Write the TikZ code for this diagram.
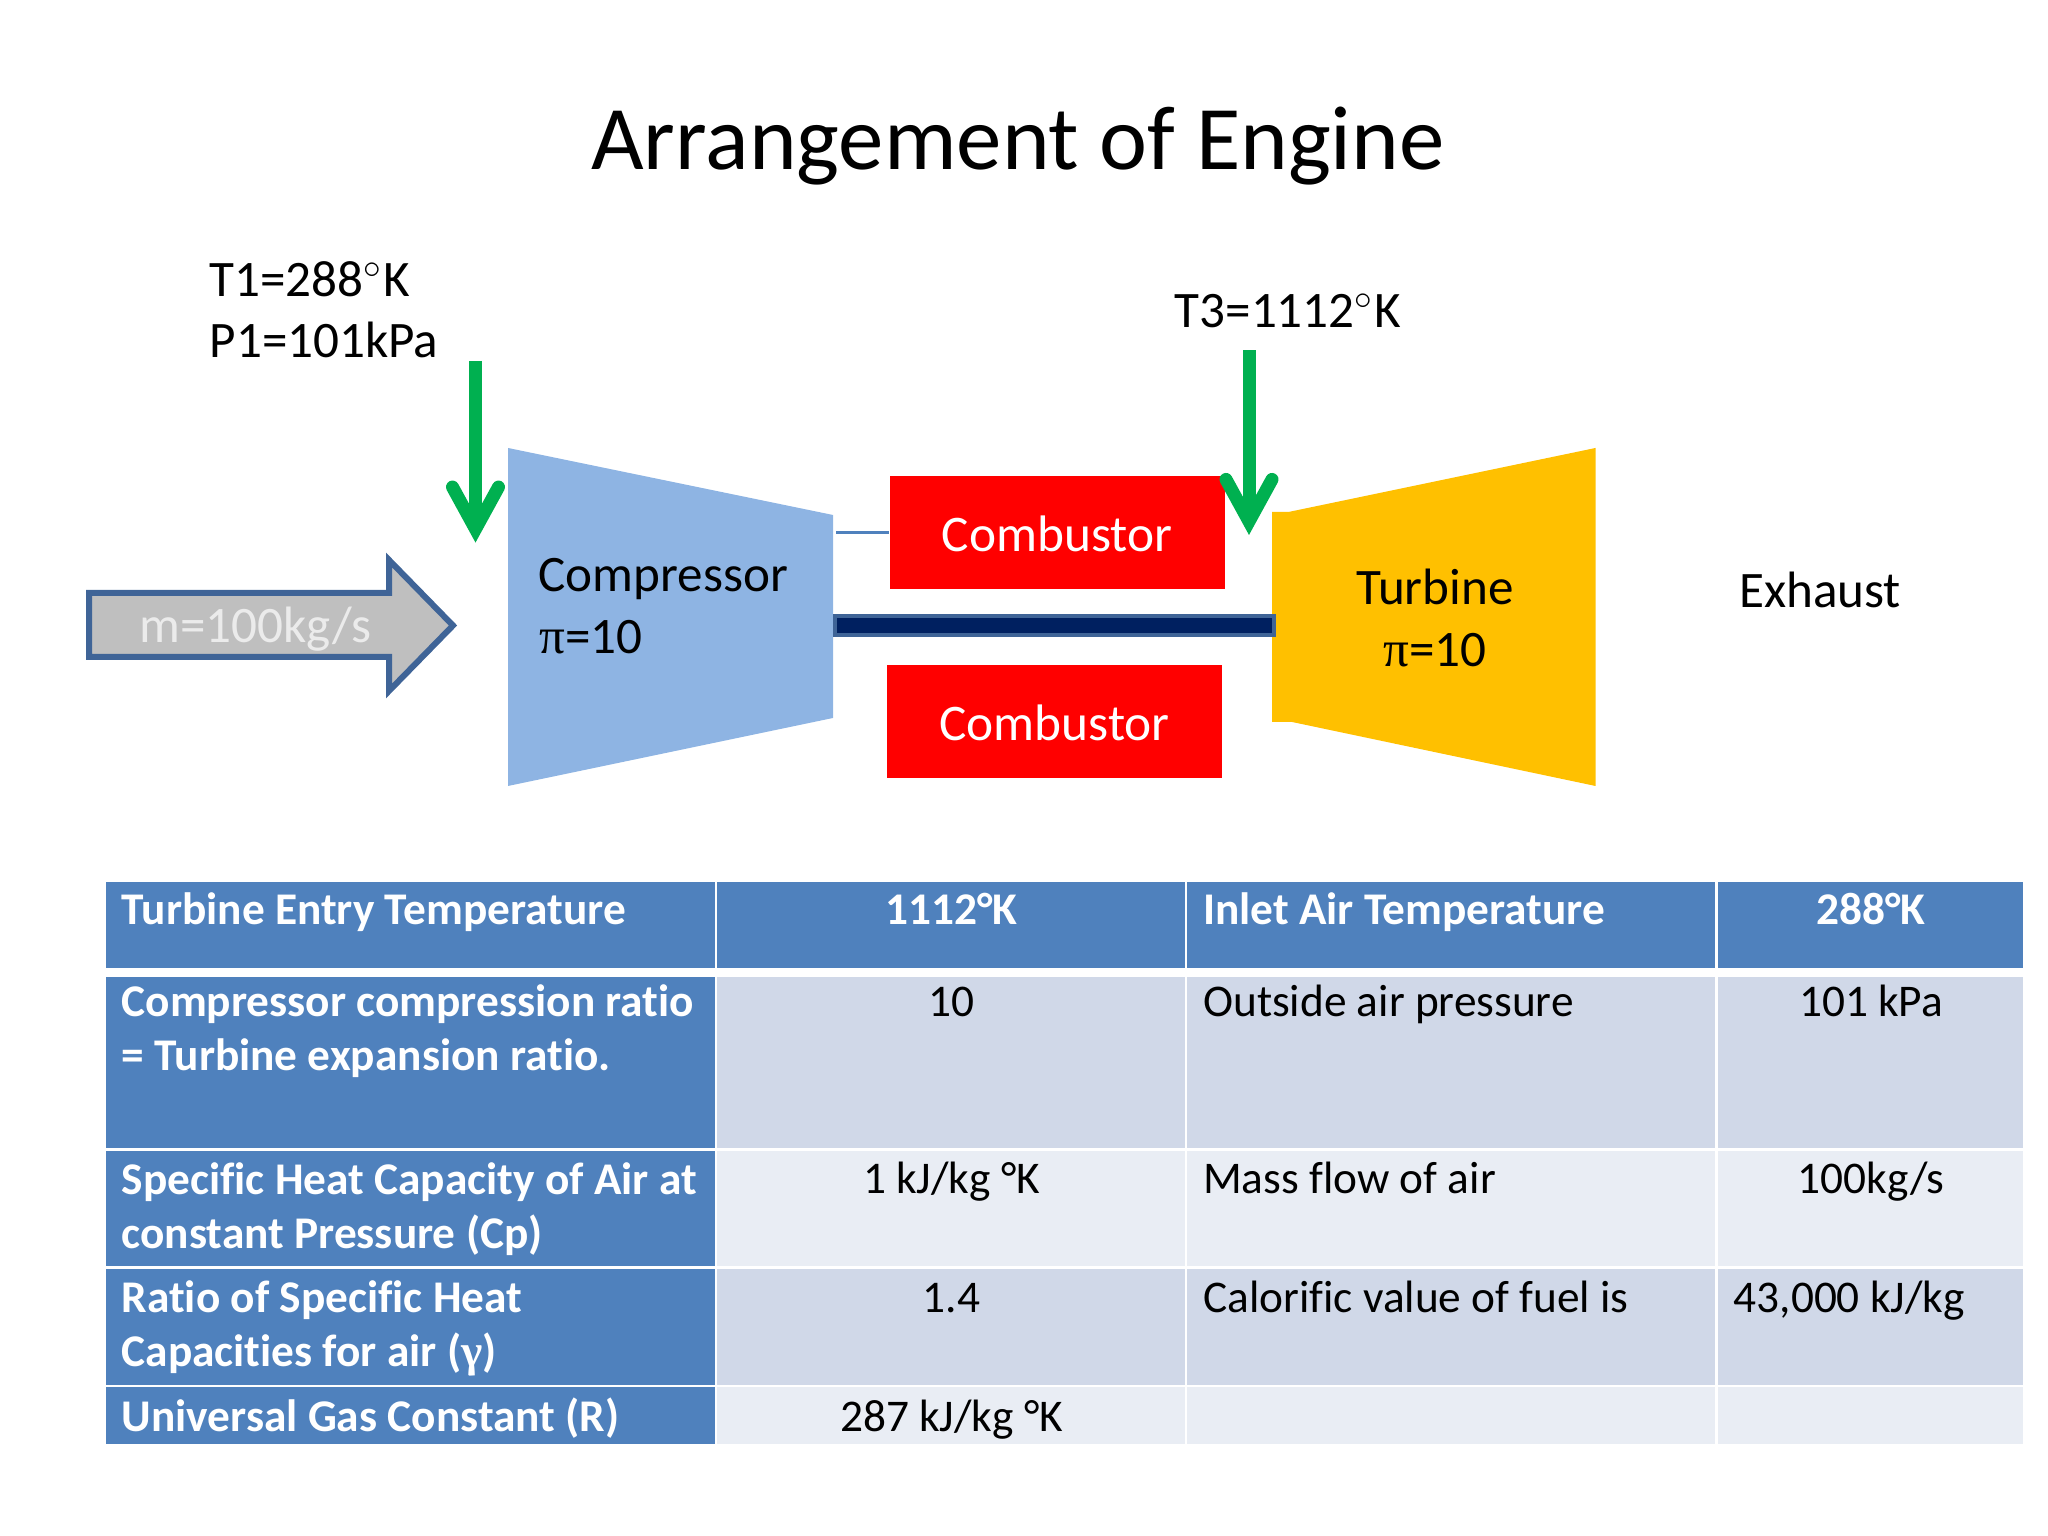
\documentclass[tikz,border=0pt]{standalone}
\usepackage{fontspec}
\setmainfont[Ligatures=NoCommon]{Carlito}
\newfontfamily\greekfont{Liberation Serif}
\usepackage{amsmath}
\usepackage{amssymb}
\usepackage{tikz}
\usetikzlibrary{arrows.meta}

\definecolor{airblue}{HTML}{8EB4E3}
\definecolor{fuelred}{HTML}{FF0000}
\definecolor{hotamber}{HTML}{FFC000}
\definecolor{inletgreen}{HTML}{00B050}
\definecolor{shaftnavy}{HTML}{002060}
\definecolor{edgeblue}{HTML}{3F6497}
\definecolor{headblue}{HTML}{4F81BD}
\definecolor{banddark}{HTML}{D0D8E8}
\definecolor{bandlight}{HTML}{E9EDF4}

\tikzset{
	labeltext/.style={inner sep=0pt,anchor=base west,align=left,font=\fontsize{14.55}{17.6}\selectfont},
	tabletext/.style={inner sep=0pt,anchor=base west,align=left,font=\fontsize{12.9}{15.4}\selectfont},
	headtext/.style={tabletext,text=white,font=\fontsize{12.9}{15.4}\selectfont\bfseries},
	combustor/.style={fill=fuelred,text=white,inner sep=0pt,minimum width=3.35cm,minimum height=1.13cm,text height=0.39cm,text depth=0cm,font=\fontsize{14.6}{17.6}\selectfont},
	inlet/.style={inletgreen,line width=0.13cm,-{Straight Barb[length=0.42cm,width=0.46cm,line cap=round,line join=miter]}},
}

\begin{document}
\begin{tikzpicture}
	\useasboundingbox (0,0) rectangle (20.48,15.36);

	% -- Title
	\node[inner sep=0pt,anchor=base,font=\fontsize{25.86}{32}\selectfont] (title) at (10.18,13.66) {Arrangement of Engine};

	% -- Mass flow arrow
	\draw[line width=0.06cm,draw=edgeblue,fill=black!25,line join=miter] (0.89,9.43) -- (3.89,9.43) -- (3.89,9.76) -- (4.53,9.105) -- (3.89,8.45) -- (3.89,8.79) -- (0.89,8.79) -- cycle;
	\node[labeltext,text=black!8] (flow) at (1.385,8.93) {m=100kg/s};

	% -- Compressor and turbine
	\fill[airblue] (5.08,10.88) -- (8.33,10.21) -- (8.33,8.18) -- (5.08,7.50) -- cycle;
	\fill[hotamber] (12.72,10.24) -- (12.885,10.24) -- (15.955,10.88) -- (15.955,7.50) -- (12.92,8.14) -- (12.72,8.14) -- cycle;
	\node[labeltext] (comp) at (5.38,9.445) {Compressor};
	\node[labeltext] (compratio) at (5.39,8.82) {{\greekfont π}=10};
	\node[labeltext,anchor=base] (turb) at (14.35,9.31) {Turbine};
	\node[labeltext,anchor=base] (turbratio) at (14.35,8.69) {{\greekfont π}=10};

	% -- Shaft
	\draw[line width=0.04cm,draw=edgeblue,fill=shaftnavy] (8.35,9.20) rectangle (12.735,9.01);

	% -- Combustors
	\node[combustor] (combtop) at (10.57,10.035) {Combustor};
	\node[combustor] (combbot) at (10.545,8.146) {Combustor};
	\coordinate (compout) at (8.36,10.035);
	\draw[headblue,line width=0.03cm] (compout) -- (combtop);

	% -- Inlet arrows
	\coordinate (airin) at (4.755,11.75);
	\coordinate (airtip) at (4.755,9.934);
	\coordinate (fuelin) at (12.49,11.855);
	\coordinate (fueltip) at (12.49,10.01);
	\draw[inlet] (airin) -- (airtip);
	\draw[inlet] (fuelin) -- (fueltip);

	% -- Station labels
	\node[labeltext] (tone) at (2.09,12.39) {T1=288$^{\circ}$K};
	\node[labeltext] (pone) at (2.09,11.785) {P1=101kPa};
	\node[labeltext] (tthree) at (11.74,12.085) {T3=1112$^{\circ}$K};
	\node[labeltext] (exhaust) at (17.385,9.285) {Exhaust};

	% -- Table cells
	\foreach \rowtop/\rowbot/\band in {6.54/5.68/headblue,5.59/3.88/banddark,3.85/2.70/bandlight,2.67/1.51/banddark,1.49/0.924/bandlight}{
		\fill[headblue] (1.06,\rowtop) rectangle (7.15,\rowbot);
		\foreach \colleft/\colright in {7.17/11.85,11.87/17.15,17.18/20.23}{
			\fill[\band] (\colleft,\rowtop) rectangle (\colright,\rowbot);
		}
	}

	% -- Table text
	\node[headtext] (heada) at (1.21,6.11) {Turbine Entry Temperature};
	\node[headtext,anchor=base] (headb) at (9.515,6.11) {1112°K};
	\node[headtext] (headc) at (12.025,6.11) {Inlet Air Temperature};
	\node[headtext,anchor=base] (headd) at (18.71,6.11) {288°K};

	\node[headtext] (rowa) at (1.21,4.65) {Compressor compression ratio\\= Turbine expansion ratio.};
	\node[tabletext,anchor=base] (rowab) at (9.515,5.19) {10};
	\node[tabletext] (rowac) at (12.025,5.19) {Outside air pressure};
	\node[tabletext,anchor=base] (rowad) at (18.71,5.19) {101 kPa};

	\node[headtext] (rowb) at (1.21,2.875) {Specific Heat Capacity of Air at\\constant Pressure (Cp)};
	\node[tabletext,anchor=base] (rowbb) at (9.515,3.42) {1 kJ/kg °K};
	\node[tabletext] (rowbc) at (12.025,3.42) {Mass flow of air};
	\node[tabletext,anchor=base] (rowbd) at (18.71,3.42) {100kg/s};

	\node[headtext] (rowc) at (1.21,1.69) {Ratio of Specific Heat\\Capacities for air ({\greekfont γ})};
	\node[tabletext,anchor=base] (rowcb) at (9.515,2.23) {1.4};
	\node[tabletext] (rowcc) at (12.025,2.23) {Calorific value of fuel is};
	\node[tabletext] (rowcd) at (17.33,2.23) {43,000 kJ/kg};

	\node[headtext] (rowd) at (1.21,1.045) {Universal Gas Constant (R)};
	\node[tabletext,anchor=base] (rowdb) at (9.515,1.045) {287 kJ/kg °K};
\end{tikzpicture}
\end{document}
